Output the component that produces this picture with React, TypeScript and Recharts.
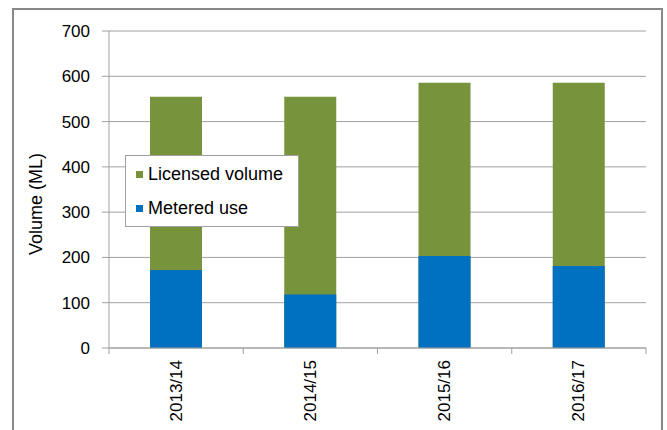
import { Bar, BarChart, CartesianGrid, Label, Legend, XAxis, YAxis } from "recharts"

const years = ["2013/14", "2014/15", "2015/16", "2016/17"]
const licensedVolume = [555, 555, 586, 586]
const meteredUse = [172, 118, 203, 181]
const yTicks = [0, 100, 200, 300, 400, 500, 600, 700]

const GREEN = "#77933c"
const BLUE = "#0070c0"
const GRID = "#a0a0a0"
const FONT = "'Liberation Sans', Arial, sans-serif"

const data = years.map((year, i) => ({
  year,
  licensed: licensedVolume[i],
  metered: meteredUse[i],
}))

const legendItems = [
  { label: "Licensed volume", color: GREEN },
  { label: "Metered use", color: BLUE },
]

function YearTick(props: any) {
  const { x, y, payload, index, visibleTicksCount, width } = props
  const band = width && visibleTicksCount ? width / visibleTicksCount : 134.25
  const half = band / 2
  return (
    <g>
      <line x1={x - half} x2={x - half} y1={y} y2={y + 6} stroke={GRID} />
      {index === visibleTicksCount - 1 && (
        <line x1={x + half} x2={x + half} y1={y} y2={y + 6} stroke={GRID} />
      )}
      <text
        x={x}
        y={y + 12}
        dy="0.33em"
        transform={`rotate(-90, ${x}, ${y + 12})`}
        textAnchor="end"
        fill="#000"
        fontSize={17}
        fontFamily={FONT}
      >
        {payload.value}
      </text>
    </g>
  )
}

function ChartLegend() {
  return (
    <div
      style={{
        boxSizing: "border-box",
        width: 174,
        height: 72,
        background: "#fff",
        border: `1px solid ${GRID}`,
        fontFamily: FONT,
        fontSize: 18,
        color: "#000",
        paddingTop: 1,
      }}
    >
      {legendItems.map(item => (
        <div key={item.label} style={{ display: "flex", alignItems: "center", height: 34, paddingLeft: 10 }}>
          <span style={{ width: 7, height: 7, background: item.color, marginRight: 5 }} />
          {item.label}
        </div>
      ))}
    </div>
  )
}

export default function App() {
  return (
    <div style={{ position: "relative", width: 667, height: 430, overflow: "hidden", background: "#fff" }}>
      <style>{`body { margin: 0; }`}</style>
      <div
        style={{
          position: "absolute",
          left: 12,
          top: 8,
          width: 651,
          height: 460,
          boxSizing: "border-box",
          border: "2px solid #888",
        }}
      />
      <BarChart
        width={667}
        height={430}
        data={data}
        margin={{ top: 31, right: 21, bottom: 0, left: 0 }}
        barSize={52}
        barGap={-52}
        style={{ position: "absolute", left: 0, top: 0 }}
      >
        <CartesianGrid vertical={false} stroke={GRID} strokeWidth={1} />
        <XAxis
          dataKey="year"
          height={82}
          tickLine={false}
          tickSize={0}
          tickMargin={0}
          axisLine={{ stroke: GRID }}
          interval={0}
          tick={<YearTick />}
        />
        <YAxis
          width={109}
          domain={[0, 700]}
          ticks={yTicks}
          interval={0}
          tickSize={7}
          tickMargin={12}
          axisLine={{ stroke: GRID }}
          tickLine={{ stroke: GRID }}
          tick={{ fill: "#000", fontSize: 17, fontFamily: FONT }}
        >
          <Label
            content={() => (
              <text
                x={36}
                y={204}
                transform="rotate(-90, 36, 204)"
                textAnchor="middle"
                dy="0.35em"
                fill="#000"
                fontSize={18}
                fontFamily={FONT}
              >
                Volume (ML)
              </text>
            )}
          />
        </YAxis>
        <YAxis
          yAxisId="edge"
          orientation="right"
          width={0}
          domain={[0, 700]}
          tick={false}
          tickLine={false}
          axisLine={{ stroke: GRID }}
        />
        <Legend
          layout="vertical"
          align="center"
          verticalAlign="middle"
          content={<ChartLegend />}
          wrapperStyle={{ left: 125, top: 155, width: 174, height: 72 }}
        />
        <Bar dataKey="licensed" name="Licensed volume" fill={GREEN} isAnimationActive={false} />
        <Bar dataKey="metered" name="Metered use" fill={BLUE} isAnimationActive={false} />
      </BarChart>
    </div>
  )
}
